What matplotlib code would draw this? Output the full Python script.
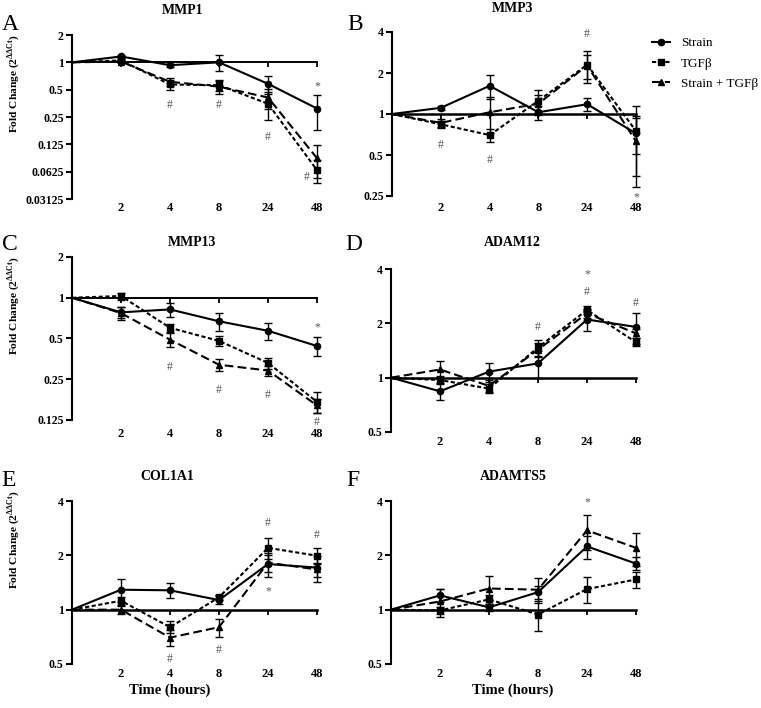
import matplotlib
matplotlib.use('Agg')
import matplotlib.pyplot as plt
from matplotlib.ticker import FixedLocator, FixedFormatter, NullLocator

plt.rcParams['font.family'] = ['Liberation Serif', 'DejaVu Serif']
plt.rcParams['mathtext.fontset'] = 'custom'
plt.rcParams['mathtext.rm'] = 'Liberation Serif'
plt.rcParams['mathtext.bf'] = 'Liberation Serif:bold'

# ---------------- data ----------------
time_labels = ['2', '4', '8', '24', '48']
x_idx = [0, 1, 2, 3, 4, 5]          # index 0 = time 0 (baseline)
series_names = ['Strain', 'TGFβ', 'Strain + TGFβ']

mmp1_strain = [1, 1.16, 0.93, 1.00, 0.58, 0.31]
mmp1_strain_sem = [0, 0.04, 0.04, 0.20, 0.13, 0.13]
mmp1_tgf = [1, 1.05, 0.57, 0.56, 0.35, 0.065]
mmp1_tgf_sem = [0, 0.04, 0.07, 0.08, 0.12, 0.018]
mmp1_st = [1, 1.02, 0.61, 0.54, 0.41, 0.088]
mmp1_st_sem = [0, 0.04, 0.06, 0.09, 0.10, 0.035]

mmp3_strain = [1, 1.11, 1.61, 1.03, 1.18, 0.72]
mmp3_strain_sem = [0, 0.04, 0.32, 0.12, 0.13, 0.21]
mmp3_tgf = [1, 0.84, 0.70, 1.25, 2.30, 0.75]
mmp3_tgf_sem = [0, 0.05, 0.08, 0.24, 0.60, 0.40]
mmp3_st = [1, 0.86, 1.03, 1.19, 2.27, 0.63]
mmp3_st_sem = [0, 0.06, 0.30, 0.20, 0.45, 0.34]

mmp13_strain = [1, 0.78, 0.82, 0.67, 0.57, 0.44]
mmp13_strain_sem = [0, 0.07, 0.10, 0.10, 0.08, 0.07]
mmp13_tgf = [1, 1.03, 0.60, 0.48, 0.33, 0.17]
mmp13_tgf_sem = [0, 0.06, 0.04, 0.04, 0.03, 0.03]
mmp13_st = [1, 0.77, 0.49, 0.32, 0.29, 0.16]
mmp13_st_sem = [0, 0.08, 0.06, 0.03, 0.025, 0.02]

adam12_strain = [1, 0.84, 1.08, 1.20, 2.10, 1.91]
adam12_strain_sem = [0, 0.09, 0.13, 0.20, 0.28, 0.38]
adam12_tgf = [1, 0.97, 0.87, 1.47, 2.37, 1.57]
adam12_tgf_sem = [0, 0.05, 0.05, 0.15, 0.12, 0.08]
adam12_st = [1, 1.11, 0.90, 1.43, 2.27, 1.76]
adam12_st_sem = [0, 0.12, 0.07, 0.12, 0.12, 0.10]

col1a1_strain = [1, 1.29, 1.28, 1.13, 1.79, 1.71]
col1a1_strain_sem = [0, 0.19, 0.12, 0.06, 0.27, 0.28]
col1a1_tgf = [1, 1.12, 0.80, 1.17, 2.20, 1.99]
col1a1_tgf_sem = [0, 0.06, 0.06, 0.04, 0.30, 0.20]
col1a1_st = [1, 1.00, 0.70, 0.80, 1.82, 1.67]
col1a1_st_sem = [0, 0.05, 0.07, 0.09, 0.20, 0.15]

adamts5_strain = [1, 1.20, 1.03, 1.25, 2.24, 1.80]
adamts5_strain_sem = [0, 0.10, 0.05, 0.10, 0.33, 0.15]
adamts5_tgf = [1, 0.99, 1.14, 0.94, 1.30, 1.47]
adamts5_tgf_sem = [0, 0.04, 0.06, 0.18, 0.21, 0.15]
adamts5_st = [1, 1.11, 1.31, 1.29, 2.75, 2.20]
adamts5_st_sem = [0, 0.20, 0.23, 0.20, 0.60, 0.45]

# significance marks: (x index, fold-change height, symbol)
mmp1_marks = [(5, 0.55, '*'), (2, 0.34, '#'), (3, 0.34, '#'), (4, 0.152, '#'), (4.78, 0.055, '#')]
mmp3_marks = [(1, 0.59, '#'), (2, 0.46, '#'), (4, 3.84, '#'), (5, 0.245, '*')]
mmp13_marks = [(5, 0.60, '*'), (2, 0.31, '#'), (3, 0.21, '#'), (4, 0.19, '#'), (5, 0.121, '#')]
adam12_marks = [(4, 3.72, '*'), (4, 3.0, '#'), (3, 1.91, '#'), (5, 2.59, '#')]
col1a1_marks = [(2, 0.53, '#'), (3, 0.60, '#'), (4, 3.04, '#'), (4, 1.27, '*'), (5, 2.6, '#')]
adamts5_marks = [(4, 3.94, '*')]

yticks_a = [2, 1, 0.5, 0.25, 0.125, 0.0625, 0.03125]
yticklabels_a = ['2', '1', '0.5', '0.25', '0.125', '0.0625', '0.03125']
yticks_b = [4, 2, 1, 0.5, 0.25]
yticklabels_b = ['4', '2', '1', '0.5', '0.25']
yticks_c = [2, 1, 0.5, 0.25, 0.125]
yticklabels_c = ['2', '1', '0.5', '0.25', '0.125']
yticks_def = [4, 2, 1, 0.5]
yticklabels_def = ['4', '2', '1', '0.5']

# ---------------- layout ----------------
W, H = 761, 708
fig = plt.figure(figsize=(W / 100, H / 100), dpi=100)

def px_rect(l, t, r, b):
    return [l / W, 1 - b / H, (r - l) / W, (b - t) / H]

def fx(x):
    return x / W

def fy(y):
    return 1 - y / H

panels = [
    dict(letter='A', title='MMP1', rect=(72, 35, 317, 199), title_xy=(183, 11), letter_xy=(10, 25),
         data=[(mmp1_strain, mmp1_strain_sem), (mmp1_tgf, mmp1_tgf_sem), (mmp1_st, mmp1_st_sem)],
         marks=mmp1_marks, yt=yticks_a, ytl=yticklabels_a, ylabel_y=84, xlabel=None, lw=1.4, xpad=2.5),
    dict(letter='B', title='MMP3', rect=(392, 32, 636, 196), title_xy=(513, 8), letter_xy=(355, 25),
         data=[(mmp3_strain, mmp3_strain_sem), (mmp3_tgf, mmp3_tgf_sem), (mmp3_st, mmp3_st_sem)],
         marks=mmp3_marks, yt=yticks_b, ytl=yticklabels_b, ylabel_y=None, xlabel=None, lw=1.8, xpad=4.5),
    dict(letter='C', title='MMP13', rect=(72, 257, 317, 420), title_xy=(192, 243), letter_xy=(10, 245),
         data=[(mmp13_strain, mmp13_strain_sem), (mmp13_tgf, mmp13_tgf_sem), (mmp13_st, mmp13_st_sem)],
         marks=mmp13_marks, yt=yticks_c, ytl=yticklabels_c, ylabel_y=306, xlabel=None, lw=1.4, xpad=5.5),
    dict(letter='D', title='ADAM12', rect=(391, 269, 636, 432), title_xy=(512, 243), letter_xy=(354, 245),
         data=[(adam12_strain, adam12_strain_sem), (adam12_tgf, adam12_tgf_sem), (adam12_st, adam12_st_sem)],
         marks=adam12_marks, yt=yticks_def, ytl=yticklabels_def, ylabel_y=None, xlabel=None, lw=1.8, xpad=3),
    dict(letter='E', title='COL1A1', rect=(72, 501, 317, 664), title_xy=(167, 476), letter_xy=(9, 481),
         data=[(col1a1_strain, col1a1_strain_sem), (col1a1_tgf, col1a1_tgf_sem), (col1a1_st, col1a1_st_sem)],
         marks=col1a1_marks, yt=yticks_def, ytl=yticklabels_def, ylabel_y=540, xlabel=(170, 690), lw=1.8, xpad=3),
    dict(letter='F', title='ADAMTS5', rect=(391, 501, 636, 664), title_xy=(513, 477), letter_xy=(353, 481),
         data=[(adamts5_strain, adamts5_strain_sem), (adamts5_tgf, adamts5_tgf_sem), (adamts5_st, adamts5_st_sem)],
         marks=adamts5_marks, yt=yticks_def, ytl=yticklabels_def, ylabel_y=None, xlabel=(513, 690), lw=1.8, xpad=3),
]

styles = [
    dict(ls='-', marker='o', ms=4.5),
    dict(ls=(0, (2.0, 1.2)), marker='s', ms=4.5),
    dict(ls=(0, (4.2, 2.0)), marker='^', ms=4.5),
]

legend_handles = []
for p in panels:
    ax = fig.add_axes(px_rect(*p['rect']))
    ax.set_yscale('log', base=2)
    ax.set_xlim(x_idx[0], x_idx[-1])
    ax.set_ylim(min(p['yt']), max(p['yt']))
    ax.patch.set_visible(False)

    # baseline (x axis) at fold change 1
    for s in ['top', 'right']:
        ax.spines[s].set_visible(False)
    ax.spines['bottom'].set_position(('data', 1))
    ax.spines['bottom'].set_linewidth(p['lw'])
    ax.spines['left'].set_linewidth(1.5)
    ax.set_xticks(x_idx[1:])
    ax.tick_params(axis='x', direction='out', length=3.5, width=1.3, labelbottom=False)

    ax.yaxis.set_major_locator(FixedLocator(p['yt']))
    ax.yaxis.set_major_formatter(FixedFormatter(p['ytl']))
    ax.yaxis.set_minor_locator(NullLocator())
    ax.tick_params(axis='y', direction='out', length=4, width=1.5, pad=2, labelsize=8.5)
    for lab in ax.get_yticklabels():
        lab.set_fontweight('bold')

    sec = ax.secondary_xaxis(0)
    sec.set_xticks(x_idx[1:])
    sec.set_xticklabels(time_labels)
    sec.tick_params(length=0, pad=p['xpad'], labelsize=9)
    sec.spines['bottom'].set_visible(False)
    for lab in sec.get_xticklabels():
        lab.set_fontweight('bold')

    for (vals, sem), st, name in zip(p['data'], styles, series_names):
        ax.errorbar(x_idx[1:], vals[1:], yerr=sem[1:], fmt='none', ecolor='black',
                    elinewidth=1.0, capsize=3.2, capthick=1.0, clip_on=False, zorder=3)
        ln, = ax.plot(x_idx, vals, color='black', lw=1.5, linestyle=st['ls'],
                      marker=st['marker'], ms=st['ms'], markevery=slice(1, None),
                      clip_on=False, zorder=4, label=name)
        if len(legend_handles) < 3:
            legend_handles.append(ln)

    for (xi, yv, sym) in p['marks']:
        ax.text(xi, yv, sym, ha='center', va='center', fontsize=8.5, color='#555555',
                clip_on=False)

    fig.text(fx(p['title_xy'][0]), fy(p['title_xy'][1]), p['title'], ha='center', va='center',
             fontsize=10, fontweight='bold')
    fig.text(fx(p['letter_xy'][0]), fy(p['letter_xy'][1]), p['letter'], ha='center', va='center',
             fontsize=17)
    if p['ylabel_y'] is not None:
        fig.text(fx(14), fy(p['ylabel_y']), r'Fold Change (2$^{\mathregular{ΔΔCt}}$)',
                 rotation=90, ha='center', va='center', fontsize=8.2, fontweight='bold')
    if p['xlabel'] is not None:
        fig.text(fx(p['xlabel'][0]), fy(p['xlabel'][1]), 'Time (hours)', ha='center', va='center',
                 fontsize=10.5, fontweight='bold')

fig.legend(handles=legend_handles, labels=series_names, loc='upper left',
           bbox_to_anchor=(fx(652), fy(37)), frameon=False, fontsize=9.5,
           handlelength=1.4, handletextpad=0.8, labelspacing=0.62, borderpad=0, borderaxespad=0)

fig.savefig('out.png', dpi=100)
